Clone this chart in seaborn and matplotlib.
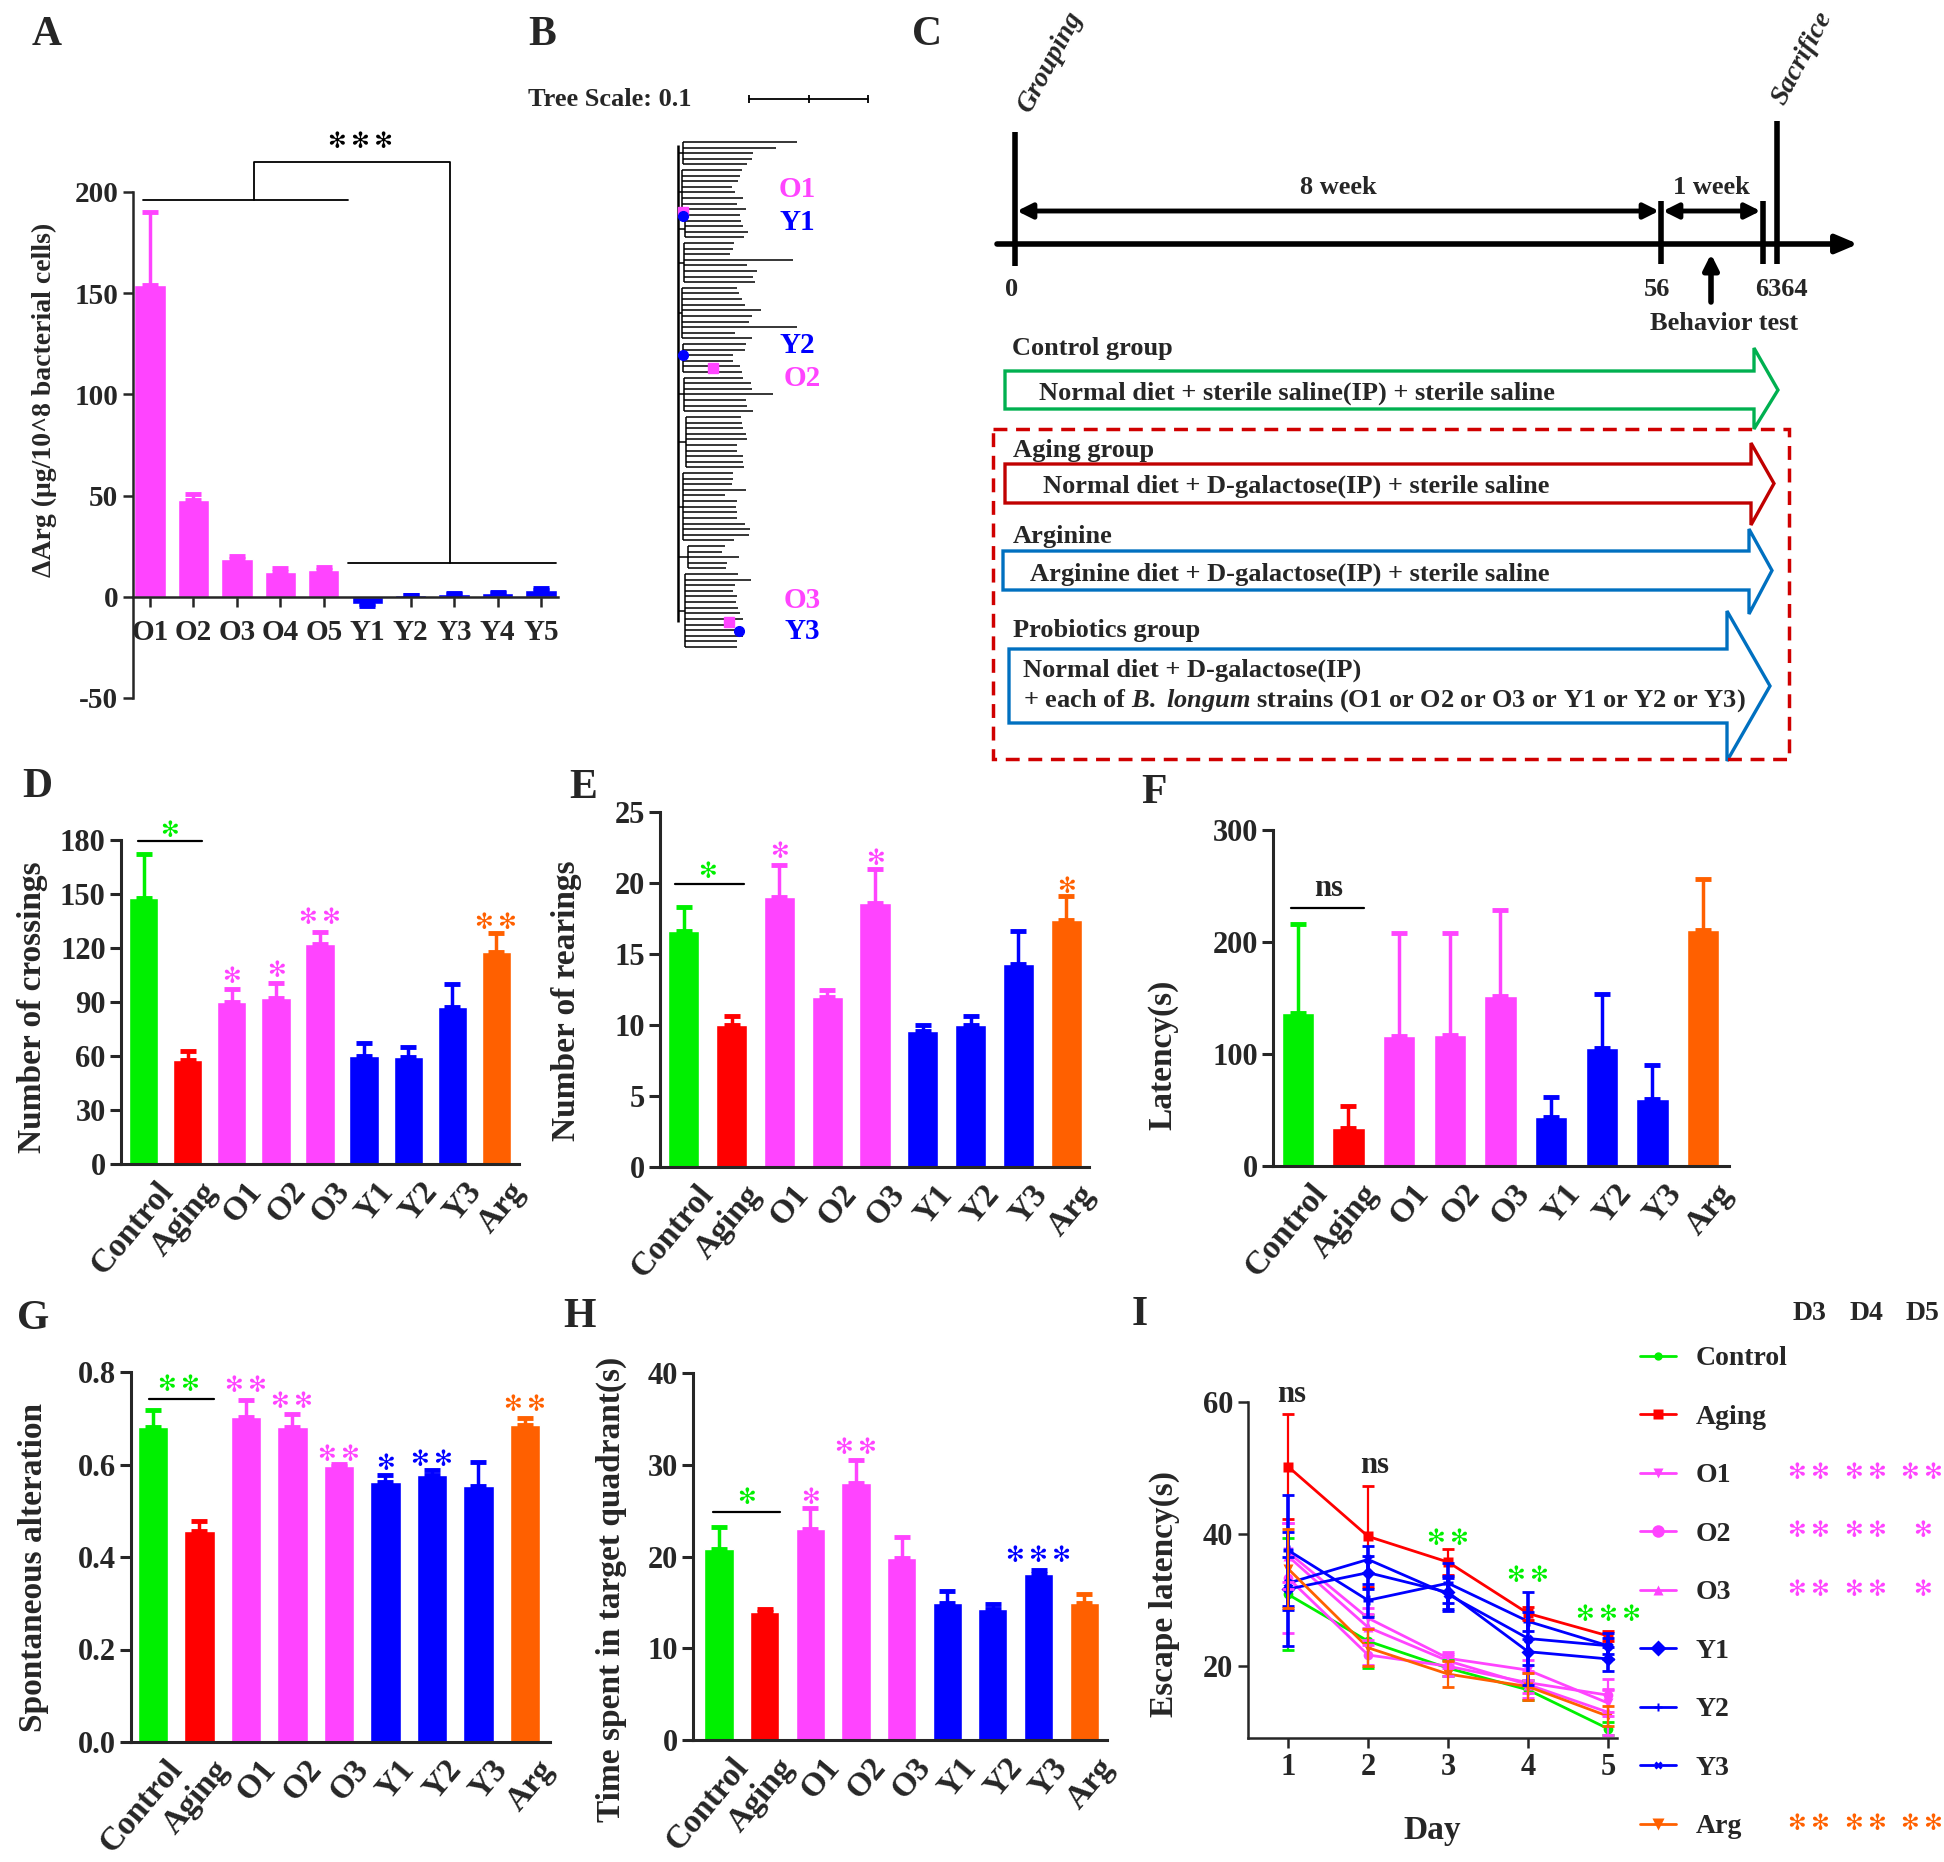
import numpy as np
import pandas as pd
import matplotlib
matplotlib.use("Agg")
import matplotlib.pyplot as plt
import matplotlib.transforms as mtransforms
from matplotlib.patches import Polygon, Rectangle
import seaborn as sns

# ---------------- data ----------------
strains_a = ["O1", "O2", "O3", "O4", "O5", "Y1", "Y2", "Y3", "Y4", "Y5"]
arg_delta = [154, 48, 18.5, 12.5, 13, -3.5, 0.8, 1.5, 1.8, 3.5]
arg_delta_err = [36, 3, 1.8, 1.5, 1.5, 0.8, 0.3, 0.6, 0.6, 0.8]

groups = ["Control", "Aging", "O1", "O2", "O3", "Y1", "Y2", "Y3", "Arg"]
crossings = [148, 58, 90, 92, 122.5, 60, 59.5, 87, 118]
crossings_err = [24.5, 5, 7, 8.5, 6.5, 7.5, 5.5, 13, 10.5]
rearings = [16.6, 10.0, 19.0, 12.0, 18.6, 9.6, 10.0, 14.3, 17.4]
rearings_err = [1.7, 0.6, 2.3, 0.5, 2.4, 0.4, 0.6, 2.3, 1.7]
latency = [137, 34, 116, 117, 151.5, 44, 105, 60, 211]
latency_err = [79, 20, 92, 91, 77, 18, 49, 30, 45]
alternation = [0.681, 0.457, 0.702, 0.681, 0.597, 0.563, 0.577, 0.553, 0.685]
alternation_err = [0.036, 0.021, 0.038, 0.028, 0.004, 0.014, 0.011, 0.052, 0.016]
target_time = [20.8, 14.0, 23.0, 28.0, 19.8, 14.9, 14.3, 18.1, 14.9]
target_time_err = [2.4, 0.3, 2.3, 2.5, 2.3, 1.3, 0.5, 0.4, 1.0]

days = [1, 2, 3, 4, 5]
esc_control = [30.8, 23.7, 19.6, 16.3, 10.4]
esc_aging = [50.2, 39.6, 35.7, 27.9, 24.5]
esc_o1 = [37.2, 27.2, 21.1, 19.3, 14.3]
esc_o2 = [33.3, 21.6, 19.9, 17.4, 15.5]
esc_o3 = [36.6, 25.8, 20.7, 17.1, 12.9]
esc_y1 = [31.6, 34.1, 31.1, 22.1, 21.0]
esc_y2 = [37.5, 29.9, 32.5, 26.7, 23.0]
esc_y3 = [32.5, 36.1, 30.8, 24.1, 23.0]
esc_arg = [34.7, 22.7, 18.7, 16.8, 12.3]
err_control = [8.5, 4.0, 1.2, 1.5, 1.0]
err_aging = [8.0, 7.7, 2.0, 1.0, 0.8]
err_o1 = [4.5, 1.5, 1.0, 1.5, 2.0]
err_o2 = [8.4, 1.5, 1.5, 1.5, 2.5]
err_o3 = [5.0, 2.0, 1.0, 2.0, 3.5]
err_y1 = [8.6, 2.5, 2.5, 2.0, 1.8]
err_y2 = [8.4, 2.5, 3.0, 1.5, 1.2]
err_y3 = [4.0, 2.0, 2.5, 7.0, 2.0]
err_arg = [6.0, 2.8, 2.0, 2.0, 1.5]
day_cols = ["D3", "D4", "D5"]
sig_o1 = ["**", "**", "**"]
sig_o2 = ["**", "**", "*"]
sig_o3 = ["**", "**", "*"]
sig_arg = ["**", "**", "**"]

# phylogenetic tree (branch tips in substitutions/site, one list per clade)
tree_clade_node = [0.004, 0.003, 0.006, 0.005, 0.003, 0.004, 0.005, 0.007, 0.004, 0.008, 0.006]
tree_clade_tips = [
    [0.100, 0.082, 0.063, 0.062, 0.058],
    [0.0535, 0.0521, 0.0507, 0.0451, 0.0479, 0.0549, 0.0498, 0.0571, 0.0521],
    [0.0526, 0.0549, 0.0591, 0.0554],
    [0.0470, 0.0459, 0.0437, 0.0963, 0.0577, 0.0661, 0.0633, 0.0647],
    [0.0498, 0.0515, 0.0535, 0.0563, 0.0697, 0.0619, 0.0599, 0.0997, 0.0479, 0.0619],
    [0.0571, 0.0563, 0.0465, 0.0459, 0.0521, 0.0535],
    [0.0549, 0.0610, 0.0619, 0.0801, 0.0571, 0.0577, 0.0633],
    [0.0526, 0.0535, 0.0549, 0.0571, 0.0577, 0.0493, 0.0498, 0.0543, 0.0549, 0.0557],
    [0.0459, 0.0465, 0.0451, 0.0571, 0.0395, 0.0493, 0.0487, 0.0493, 0.0498, 0.0563, 0.0605, 0.0599, 0.0470],
    [0.0395, 0.0367, 0.0515, 0.0409, 0.0403],
    [0.0507, 0.0610, 0.0479, 0.0465, 0.0493, 0.0487, 0.0501, 0.0521, 0.0549, 0.0465, 0.0479, 0.0543, 0.0498, 0.0493],
]
tree_strains = ["O1", "Y1", "Y2", "O2", "O3", "Y3"]
tree_strain_node_x = [0.004, 0.004, 0.004, 0.029, 0.043, 0.051]
tree_strain_node_leaf = [12.5, 13.2, 37.9, 40.2, 85.5, 87.1]
tree_label_leaf = [8.5, 14.3, 36.3, 42.1, 81.8, 87.2]

timeline_days = [0, 56, 63, 64]

# ---------------- style ----------------
W, H = 1944, 1862
GREEN, RED, PINK, BLUE, ORANGE = "#00f000", "#ff0000", "#ff44ff", "#0000ff", "#ff6000"
group_colors = [GREEN, RED, PINK, PINK, PINK, BLUE, BLUE, BLUE, ORANGE]
strain_colors = [PINK] * 5 + [BLUE] * 5

sns.set_style("ticks")
plt.rcParams["font.family"] = ["Liberation Serif", "DejaVu Sans"]
plt.rcParams["font.weight"] = "bold"
plt.rcParams["axes.labelweight"] = "bold"
plt.rcParams["axes.unicode_minus"] = False
plt.rcParams["mathtext.fontset"] = "custom"
plt.rcParams["mathtext.it"] = "Liberation Serif:italic:bold"
plt.rcParams["mathtext.rm"] = "Liberation Serif:bold"

fig = plt.figure(figsize=(W / 100, H / 100), dpi=100)

ov = fig.add_axes([0, 0, 1, 1])
ov.set_xlim(0, W)
ov.set_ylim(H, 0)
ov.axis("off")


def px_axes(left, top, right, bottom):
    return fig.add_axes([left / W, 1 - bottom / H, (right - left) / W, (bottom - top) / H])


def star(ax, x, y, s, color, size=16):
    tr = mtransforms.offset_copy(ax.transData, fig=fig, x=0, y=-3, units="dots")
    ax.text(x, y, "\u2009".join("\u273b" * len(s)), color=color, ha="center", va="center",
            fontsize=size, family="DejaVu Sans", fontweight="normal", transform=tr, clip_on=False)


def bar_panel(rect, cats, vals, errs, colors, width, xlim, ylim, yticks, ylabel,
              label_x, label_y, ytick_fmt=None, lw=2.2):
    ax = px_axes(*rect)
    df = pd.DataFrame({"group": cats, "value": vals})
    sns.barplot(data=df, x="group", y="value", hue="group", palette=dict(zip(cats, colors)),
                width=width, saturation=1, errorbar=None, legend=False, ax=ax)
    for i, (v, e, c) in enumerate(zip(vals, errs, colors)):
        ax.errorbar(i, v, yerr=[[0], [e]], fmt="none", ecolor=c, elinewidth=2.5,
                    capsize=6, capthick=3.5, clip_on=False)
    sns.despine(ax=ax)
    ax.set_xlim(*xlim)
    ax.set_ylim(*ylim)
    ax.set_yticks(yticks)
    if ytick_fmt:
        ax.set_yticklabels([ytick_fmt.format(t) for t in yticks])
    for sp in ("left", "bottom"):
        ax.spines[sp].set_linewidth(lw)
    ax.tick_params(axis="y", direction="out", length=8, width=lw, labelsize=22, pad=3)
    ax.set_xlabel("")
    ax.set_ylabel(ylabel, fontsize=24, fontweight="bold", va="center")
    l, t, r, b = rect
    ax.yaxis.set_label_coords((label_x - l) / (r - l), 1 - (label_y - t) / (b - t))
    return ax


def rot_xlabels(ax, cats, shift=12):
    ax.set_xticks(range(len(cats)))
    ax.set_xticklabels(cats, rotation=50, ha="right", va="top", rotation_mode="anchor", fontsize=24)
    ax.tick_params(axis="x", length=0, pad=9)
    off = mtransforms.ScaledTranslation(shift / 100, 0, fig.dpi_scale_trans)
    for lab in ax.get_xticklabels():
        lab.set_transform(lab.get_transform() + off)


# ---------------- A ----------------
axA = px_axes(133, 192, 558, 698)
dfa = pd.DataFrame({"strain": strains_a, "delta": arg_delta})
sns.barplot(data=dfa, x="strain", y="delta", hue="strain", palette=dict(zip(strains_a, strain_colors)),
            width=0.72, saturation=1, errorbar=None, legend=False, ax=axA)
for i, (v, e, c) in enumerate(zip(arg_delta, arg_delta_err, strain_colors)):
    axA.errorbar(i, v, yerr=[[0], [e]] if v >= 0 else [[e], [0]], fmt="none", ecolor=c,
                 elinewidth=2.5, capsize=6, capthick=3.5)
sns.despine(ax=axA)
axA.spines["bottom"].set_position(("data", 0))
axA.set_xlim(-0.39, 9.39)
axA.set_ylim(-50, 200)
axA.set_yticks([-50, 0, 50, 100, 150, 200])
for sp in ("left", "bottom"):
    axA.spines[sp].set_linewidth(1.8)
axA.tick_params(axis="both", direction="out", length=7, width=1.8, labelsize=21)
axA.tick_params(axis="x", pad=9)
axA.set_xlabel("")
axA.set_ylabel("ΔArg (μg/10^8 bacterial cells)", fontsize=20, va="center")
axA.yaxis.set_label_coords((44 - 133) / 425, 0.59)
br = dict(color="k", lw=1.3, clip_on=False)
axA.plot([-0.16, 4.55], [196, 196], **br)
axA.plot([2.4, 2.4, 6.9, 6.9], [196, 214.7, 214.7, 16.7], **br)
axA.plot([4.55, 9.35], [16.7, 16.7], **br)
star(axA, 4.85, 226, "***", "k", size=16)

# ---------------- B (tree) ----------------
axB = px_axes(660, 130, 820, 660)
axB.set_xlim((660 - 678) / 1190, (820 - 678) / 1190)
axB.set_ylim((660 - 142) / 5.611, (130 - 142) / 5.611)
axB.axis("off")
leaf = 0
mids = []
for node_x, tips in zip(tree_clade_node, tree_clade_tips):
    ys = np.arange(leaf, leaf + len(tips))
    axB.hlines(ys, node_x, tips, color="k", lw=1.1)
    axB.vlines(node_x, ys[0], ys[-1], color="k", lw=1.1)
    axB.hlines(ys.mean(), 0, node_x, color="k", lw=1.1)
    mids.append(ys.mean())
    leaf += len(tips)
axB.vlines(0, mids[0] - 1.5, mids[-1] + 2, color="k", lw=1.8)
for s, nx, ny, ly in zip(tree_strains, tree_strain_node_x, tree_strain_node_leaf, tree_label_leaf):
    col = PINK if s.startswith("O") else BLUE
    axB.plot(nx, ny, marker="s" if s.startswith("O") else "o", color=col, ms=7, mec=col)
    axB.text(0.1 if s in ("O1", "Y1", "Y2") else 0.104, ly, s, color=col, fontsize=21,
             ha="center", va="center", clip_on=False)
sb_y = (99 - 142) / 5.611
axB.plot([0.06, 0.16], [sb_y, sb_y], color="k", lw=1.3, clip_on=False)
axB.vlines([0.06, 0.11, 0.16], sb_y - 0.7, sb_y + 0.7, color="k", lw=1.3, clip_on=False)
ov.text(528, 99, "Tree Scale: 0.1", fontsize=19, ha="left", va="center")

# ---------------- C (design) ----------------
def day_px(d):
    # schematic timeline, not to scale after day 56
    return np.interp(d, [0, 56, 64], [1015, 1661, 1777])

tl = dict(color="k", lw=4, solid_capstyle="butt")
ov.annotate("", xy=(1858, 244), xytext=(997, 244),
            arrowprops=dict(arrowstyle="-|>,head_length=1.3,head_width=0.55", lw=4, color="k",
                            shrinkA=0, shrinkB=0))
ov.plot([day_px(0)] * 2, [132, 266], **tl)
ov.plot([day_px(56)] * 2, [201, 264], **tl)
ov.plot([day_px(63)] * 2, [201, 264], **tl)
ov.plot([day_px(64)] * 2, [121, 264], **tl)
for a, b in [(0, 56), (56, 63)]:
    ov.annotate("", xy=(day_px(b) - 2, 211), xytext=(day_px(a) + 2, 211),
                arrowprops=dict(arrowstyle="<|-|>,head_length=0.9,head_width=0.45", lw=3.5,
                                color="k", shrinkA=0, shrinkB=0))
ov.text((day_px(0) + day_px(56)) / 2, 187, "8 week", fontsize=19, ha="center", va="center")
ov.text((day_px(56) + day_px(63)) / 2, 187, "1 week", fontsize=19, ha="center", va="center")
ov.text(day_px(0) - 3, 289, str(timeline_days[0]), fontsize=19, ha="center", va="center")
ov.text(day_px(56) - 4, 289, str(timeline_days[1]), fontsize=19, ha="center", va="center")
ov.text((day_px(63) + day_px(64)) / 2 + 12, 289, f"{timeline_days[2]}{timeline_days[3]}",
        fontsize=19, ha="center", va="center")
ov.annotate("", xy=(1711, 254), xytext=(1711, 302),
            arrowprops=dict(arrowstyle="-|>,head_length=0.9,head_width=0.45", lw=4, color="k",
                            shrinkA=0, shrinkB=0))
ov.text(1724, 324, "Behavior test", fontsize=19, ha="center", va="center")
ov.text(1050, 62, "Grouping", fontsize=20, style="italic", rotation=62, ha="center", va="center")
ov.text(1802, 58, "Sacrifice", fontsize=20, style="italic", rotation=62, ha="center", va="center")


def arrow_box(x0, x1, yt, yb, ht, hb, tip, color):
    mid = (yt + yb) / 2
    pts = [(x0, yt), (x1, yt), (x1, ht), (tip, mid), (x1, hb), (x1, yb), (x0, yb)]
    ov.add_patch(Polygon(pts, closed=True, fill=False, ec=color, lw=2.4, joinstyle="miter"))


arrow_box(1005, 1754, 371, 409, 348, 429, 1778, "#00b050")
arrow_box(1005, 1751, 464, 503, 443, 525, 1774, "#c00000")
arrow_box(1003, 1749, 551, 590, 529, 614, 1772, "#0070c0")
arrow_box(1009, 1727, 649, 723, 611, 761, 1770, "#0070c0")
ov.add_patch(Rectangle((993, 429), 796, 330, fill=False, ec="#d00000", lw=2.5, ls=(0, (4, 2.5))))
ctext = [
    (1012, 349, "Control group"),
    (1039, 393, "Normal diet + sterile saline(IP) + sterile saline"),
    (1013, 450, "Aging group"),
    (1043, 486, "Normal diet + D-galactose(IP) + sterile saline"),
    (1013, 537, "Arginine"),
    (1030, 574, "Arginine diet + D-galactose(IP) + sterile saline"),
    (1013, 631, "Probiotics group"),
    (1023, 670, "Normal diet + D-galactose(IP)"),
    (1023, 701, r"+ each of $\mathit{B.\ longum}$ strains (O1 or O2 or O3 or Y1 or Y2 or Y3)"),
]
for x, y, s in ctext:
    ov.text(x, y, s, fontsize=19, ha="left", va="center")

# ---------------- D ----------------
axD = bar_panel((121, 840, 519, 1164), groups, crossings, crossings_err, group_colors, 0.66,
                (-0.52, 8.52), (0, 180), [0, 30, 60, 90, 120, 150, 180], "Number of crossings", 33, 1007)
rot_xlabels(axD, groups)
axD.plot([-0.14, 1.32], [179.5, 179.5], color="k", lw=1.6, clip_on=False)
star(axD, 0.57, 186.5, "*", GREEN)
star(axD, 2, 105.8, "*", PINK)
star(axD, 3, 108.8, "*", PINK)
star(axD, 4, 138.6, "**", PINK)
star(axD, 8, 135.5, "**", ORANGE)

# ---------------- E ----------------
axE = bar_panel((660, 812, 1089, 1167), groups, rearings, rearings_err, group_colors, 0.65,
                (-0.5, 8.48), (0, 25), [0, 5, 10, 15, 20, 25], "Number of rearings", 566, 1001)
rot_xlabels(axE, groups)
axE.plot([-0.19, 1.26], [19.9, 19.9], color="k", lw=1.6, clip_on=False)
star(axE, 0.5, 21.0, "*", GREEN)
star(axE, 2, 22.4, "*", PINK)
star(axE, 4, 21.9, "*", PINK)
star(axE, 8, 19.9, "*", ORANGE)

# ---------------- F ----------------
axF = bar_panel((1273, 830, 1729, 1166), groups, latency, latency_err, group_colors, 0.64,
                (-0.49, 8.51), (0, 300), [0, 100, 200, 300], "Latency(s)", 1163, 1055)
rot_xlabels(axF, groups)
axF.plot([-0.14, 1.31], [230, 230], color="k", lw=1.6, clip_on=False)
axF.text(0.6, 248, "ns", fontsize=22, ha="center", va="center")

# ---------------- G ----------------
axG = bar_panel((131, 1372, 550, 1742), groups, alternation, alternation_err, group_colors, 0.66,
                (-0.47, 8.54), (0, 0.8), [0, 0.2, 0.4, 0.6, 0.8], "Spontaneous alteration", 34, 1567,
                ytick_fmt="{:.1f}")
rot_xlabels(axG, groups)
axG.plot([-0.09, 1.32], [0.742, 0.742], color="k", lw=1.6, clip_on=False)
star(axG, 0.56, 0.779, "**", GREEN)
star(axG, 2, 0.776, "**", PINK)
star(axG, 3, 0.742, "**", PINK)
star(axG, 4, 0.627, "**", PINK)
star(axG, 5, 0.607, "*", BLUE)
star(axG, 6, 0.617, "**", BLUE)
star(axG, 8, 0.736, "**", ORANGE)

# ---------------- H ----------------
axH = bar_panel((693, 1373, 1107, 1740), groups, target_time, target_time_err, group_colors, 0.64,
                (-0.57, 8.5), (0, 40), [0, 10, 20, 30, 40], "Time spent in target quadrant(s)", 611, 1589)
rot_xlabels(axH, groups)
axH.plot([-0.13, 1.34], [24.9, 24.9], color="k", lw=1.6, clip_on=False)
star(axH, 0.6, 26.7, "*", GREEN)
star(axH, 2, 26.7, "*", PINK)
star(axH, 3, 32.1, "**", PINK)
star(axH, 7, 20.4, "***", BLUE)

# ---------------- I ----------------
axI = px_axes(1248, 1402, 1617, 1738)
series = [("Control", esc_control, err_control, GREEN, "o", 6),
          ("Aging", esc_aging, err_aging, RED, "s", 7),
          ("O1", esc_o1, err_o1, PINK, "v", 7),
          ("O2", esc_o2, err_o2, PINK, "o", 9),
          ("O3", esc_o3, err_o3, PINK, "^", 7),
          ("Y1", esc_y1, err_y1, BLUE, "D", 8),
          ("Y2", esc_y2, err_y2, BLUE, "P", 6),
          ("Y3", esc_y3, err_y3, BLUE, "X", 6),
          ("Arg", esc_arg, err_arg, ORANGE, "v", 8)]
long_df = pd.DataFrame([(name, d, v) for name, vals, _, _, _, _ in series for d, v in zip(days, vals)],
                       columns=["group", "day", "latency"])
sns.lineplot(data=long_df, x="day", y="latency", hue="group", style="group",
             palette={s[0]: s[3] for s in series}, markers={s[0]: s[4] for s in series},
             dashes=False, markersize=7, linewidth=2, mec="none", errorbar=None, ax=axI)
for name, vals, errs, col, _, _ in series:
    axI.errorbar(days, vals, yerr=errs, fmt="none", ecolor=col,
                 elinewidth=2.6 if col == BLUE else 1.6, capsize=4, capthick=2, clip_on=False)
sns.despine(ax=axI)
axI.set_xlim(0.5, 5.11)
axI.set_ylim(9, 60)
axI.set_xticks(days)
axI.set_yticks([20, 40, 60])
for sp in ("left", "bottom"):
    axI.spines[sp].set_linewidth(1.8)
axI.tick_params(axis="both", direction="out", length=7, width=1.8, labelsize=22)
axI.set_xlabel("Day", fontsize=24)
axI.xaxis.set_label_coords(0.5, -(1815 - 1738) / 336)
axI.set_ylabel("Escape latency(s)", fontsize=24, va="center")
axI.yaxis.set_label_coords((1164 - 1248) / 369, 0.43)
axI.text(1.05, 61.2, "ns", fontsize=22, ha="center", va="center", clip_on=False)
axI.text(2.08, 50.3, "ns", fontsize=22, ha="center", va="center", clip_on=False)
star(axI, 3, 39.7, "**", GREEN)
star(axI, 4, 34.1, "**", GREEN)
star(axI, 5, 28.1, "***", GREEN)
handles, labels = axI.get_legend_handles_labels()
axI.get_legend().remove()
for h, s in zip(handles, series):
    h.set_markersize(s[5])
leg = fig.legend(handles, labels, loc="upper left", bbox_to_anchor=(1640 / W, 1 - 1346 / H),
                 frameon=False, fontsize=20, labelspacing=1.19, handlelength=1.3,
                 handletextpad=0.7, borderpad=0, borderaxespad=0)

# day columns of significance beside legend
col_x = [1809, 1866, 1922]
for x, s in zip(col_x, day_cols):
    ov.text(x, 1313, s, fontsize=20, ha="center", va="center")
fig.canvas.draw()
renderer = fig.canvas.get_renderer()
row_y = {}
for t in leg.get_texts():
    bb = t.get_window_extent(renderer=renderer)
    row_y[t.get_text()] = ov.transData.inverted().transform((0, (bb.y0 + bb.y1) / 2))[1]
for name, sig, col in [("O1", sig_o1, PINK), ("O2", sig_o2, PINK), ("O3", sig_o3, PINK), ("Arg", sig_arg, ORANGE)]:
    for x, s in zip(col_x, sig):
        star(ov, x, row_y[name] - 6, s, col, size=16)

# ---------------- panel letters ----------------
for s, x, y in [("A", 47, 35), ("B", 542, 35), ("C", 927, 35), ("D", 37, 787), ("E", 583, 788),
                ("F", 1154, 793), ("G", 33, 1319), ("H", 579, 1317), ("I", 1140, 1315)]:
    ov.text(x, y, s, fontsize=30, ha="center", va="center")

fig.savefig("out.png", dpi=100)
